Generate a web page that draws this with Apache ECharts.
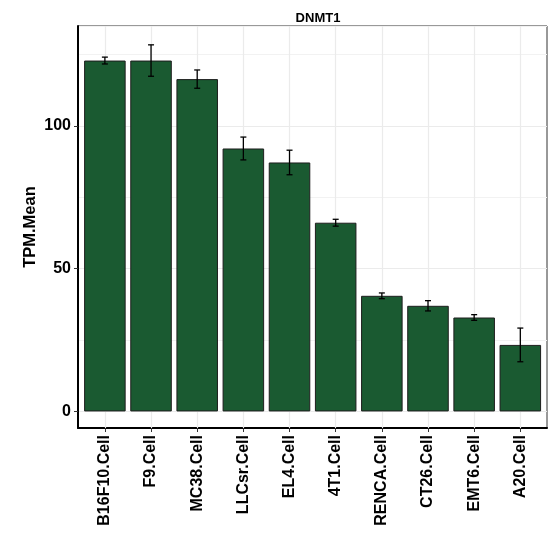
<!DOCTYPE html>
<html>
<head>
<meta charset="utf-8">
<script src="https://cdn.jsdelivr.net/npm/echarts@6/dist/echarts.min.js"></script>
<style>
  html, body { margin: 0; padding: 0; background: #fff; }
  #chart { width: 554px; height: 534px; }
</style>
</head>
<body>
<div id="chart"></div>
<script>
const cellLines = ['B16F10.Cell', 'F9.Cell', 'MC38.Cell', 'LLCsr.Cell', 'EL4.Cell',
  '4T1.Cell', 'RENCA.Cell', 'CT26.Cell', 'EMT6.Cell', 'A20.Cell']
const tpmMean = [122.9, 122.9, 116.4, 92.1, 87.2, 66.1, 40.5, 37.0, 32.9, 23.3]
const tpmSe = [1.2, 5.5, 3.2, 4.0, 4.3, 1.2, 1.0, 1.8, 1.0, 5.9]
const yTicks = [0, 50, 100]

const font = 'Liberation Sans, Arial, sans-serif'
const yMin = -5.8
const yMax = 135

const chart = echarts.init(document.getElementById('chart'))

// outer panel: frame, horizontal grid lines, axis lines
const panel = { left: 78, top: 26, width: 469, height: 402 }
// data area: ggplot-like 0.6 expansion on the discrete axis
const data = { left: 81.8, top: 26, width: 461.6, height: 402 }

const errorBars = cellLines.map((c, i) => [i, tpmMean[i] - tpmSe[i], tpmMean[i] + tpmSe[i]])

const option = {
  animation: false,
  backgroundColor: '#fff',
  title: {
    text: 'DNMT1',
    left: 313,
    top: 7,
    textAlign: 'center',
    textStyle: { fontFamily: font, fontSize: 13, fontWeight: 'bold', color: '#000' }
  },
  grid: [
    Object.assign({ show: true, borderColor: '#333', borderWidth: 1, backgroundColor: '#fff' }, panel),
    Object.assign({ show: false }, data)
  ],
  xAxis: [
    {
      gridIndex: 0, type: 'value', min: 0, max: 1, position: 'bottom',
      axisLine: { show: true, onZero: false, lineStyle: { color: '#000', width: 2 } },
      axisTick: { show: false }, axisLabel: { show: false }, splitLine: { show: false }
    },
    {
      gridIndex: 1, type: 'category', data: cellLines, boundaryGap: true, position: 'bottom',
      axisLine: { show: false, onZero: false },
      axisTick: { show: true, alignWithLabel: true, length: 4, lineStyle: { color: '#333', width: 1 } },
      axisLabel: {
        rotate: 90, margin: 7, interval: 0,
        fontFamily: font, fontSize: 16, fontWeight: 'bold', color: '#000'
      },
      splitLine: { show: true, alignWithLabel: true, lineStyle: { color: '#ebebeb', width: 1.2 } },
      z: 1
    }
  ],
  yAxis: [
    {
      // minor grid lines
      gridIndex: 0, type: 'value', position: 'left', min: yMin, max: yMax, minInterval: 25, maxInterval: 25,
      axisLine: { show: false }, axisTick: { show: false }, axisLabel: { show: false },
      splitLine: { show: true, lineStyle: { color: '#f2f2f2', width: 1 } }
    },
    {
      // major grid lines, labels and the axis line
      gridIndex: 0, type: 'value', position: 'left', offset: 0, min: yMin, max: yMax, minInterval: 50, maxInterval: 50,
      name: 'TPM.Mean', nameLocation: 'middle', nameGap: 39, nameRotate: 90, nameMoveOverlap: false,
      nameTextStyle: { fontFamily: font, fontSize: 16.5, fontWeight: 'bold', color: '#000' },
      axisLine: { show: true, onZero: false, lineStyle: { color: '#000', width: 2 } },
      axisTick: { show: true, length: 4, customValues: yTicks, lineStyle: { color: '#333', width: 1 } },
      axisLabel: {
        margin: 7, customValues: yTicks,
        fontFamily: font, fontSize: 16, fontWeight: 'bold', color: '#000'
      },
      splitLine: { show: true, lineStyle: { color: '#ebebeb', width: 1.2 } }
    },
    {
      gridIndex: 1, type: 'value', min: yMin, max: yMax, show: false,
      splitLine: { show: false }
    }
  ],
  series: [
    {
      type: 'bar',
      xAxisIndex: 1,
      yAxisIndex: 2,
      data: tpmMean,
      barWidth: '90%',
      itemStyle: { color: '#1a5a31', borderColor: '#1e1e1e', borderWidth: 1 },
      z: 3
    },
    {
      type: 'custom',
      xAxisIndex: 1,
      yAxisIndex: 2,
      data: errorBars,
      z: 4,
      renderItem: (params, api) => {
        const x = api.value(0)
        const lo = api.coord([x, api.value(1)])
        const hi = api.coord([x, api.value(2)])
        const half = 3
        const style = { stroke: '#000', lineWidth: 1.3 }
        return {
          type: 'group',
          children: [
            { type: 'line', shape: { x1: lo[0], y1: lo[1], x2: hi[0], y2: hi[1] }, style },
            { type: 'line', shape: { x1: lo[0] - half, y1: lo[1], x2: lo[0] + half, y2: lo[1] }, style },
            { type: 'line', shape: { x1: hi[0] - half, y1: hi[1], x2: hi[0] + half, y2: hi[1] }, style }
          ]
        }
      }
    }
  ]
}

chart.setOption(option)
</script>
</body>
</html>
